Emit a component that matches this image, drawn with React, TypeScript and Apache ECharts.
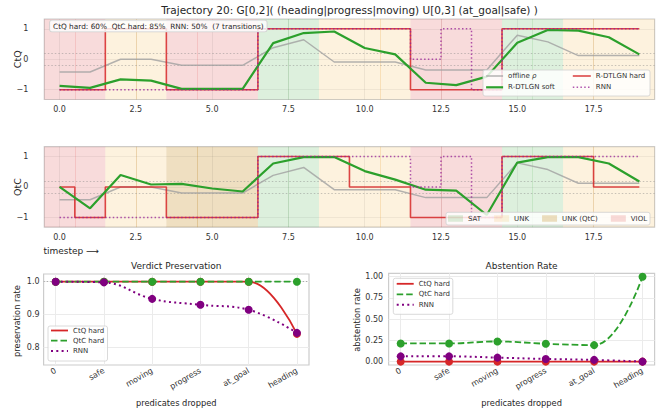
import React, { useEffect, useRef } from 'react';
import * as echarts from 'echarts';

const FONT = 'DejaVu Sans';

// ---------- trajectory panels ----------
const timesteps = [0, 1, 2, 3, 4, 5, 6, 7, 8, 9, 10, 11, 12, 13, 14, 15, 16, 17, 18, 19];
const offlineRho = [-0.42, -0.42, 0, 0, -0.2, -0.2, -0.2, 0.38, 0.64, -0.09, -0.09, -0.09, -0.35, -0.35, -0.35, 0.79, 0.57, 0.12, 0.12, 0.12];
const ctqSoft = [-0.87, -0.94, -0.66, -0.7, -0.97, -0.97, -0.97, 0.53, 0.86, 0.91, 0.37, 0.16, -0.77, -0.85, -0.57, 0.54, 0.96, 0.94, 0.72, 0.16];
const ctqHard = [-1, -1, 1, 1, -1, -1, -1, 1, 1, 1, 1, 1, -1, -1, -1, 1, 1, 1, 1, 1];
const qtcSoft = [0, -0.7, 0.39, 0.08, 0.1, -0.05, -0.15, 0.77, 0.98, 0.98, 0.52, 0.24, -0.09, -0.12, -0.92, 0.8, 0.98, 0.98, 0.77, 0.18];
const qtcHard = [0, -1, 0, 0, -1, -1, -1, 1, 1, 1, 0, 0, -1, -1, -1, 1, 1, 1, 0, 0];
const rnnVerdict = [-1, -1, -1, -1, -1, -1, -1, 1, 1, 1, 1, 1, 0, 1, -1, 1, 1, 1, 1, 1];
const ctqBands = ['VIOL', 'VIOL', 'UNK', 'UNK', 'VIOL', 'VIOL', 'VIOL', 'SAT', 'SAT', 'UNK', 'UNK', 'UNK', 'VIOL', 'VIOL', 'VIOL', 'SAT', 'SAT', 'UNK', 'UNK', 'UNK'];
const qtcBands = ['VIOL', 'VIOL', 'UNK', 'UNK', 'UNKQ', 'UNKQ', 'UNKQ', 'SAT', 'SAT', 'UNK', 'UNK', 'UNK', 'VIOL', 'VIOL', 'VIOL', 'SAT', 'SAT', 'UNK', 'UNK', 'UNK'];
const bandSeams = [0.5, 2.5, 4.5, 7.5, 10.5, 12.5, 15.5, 17.5];
const timeTicks = [0, 2.5, 5, 7.5, 10, 12.5, 15, 17.5];
const verdictTicks = [-1, 0, 1];
const thresholds = [-0.2, 0.2];
const bandNames = ['SAT', 'UNK', 'UNK (QtC)', 'VIOL'];
const bandKeys = ['SAT', 'UNK', 'UNKQ', 'VIOL'];

// ---------- robustness panels ----------
const predicates = ['0', 'safe', 'moving', 'progress', 'at_goal', 'heading'];
const presCtq = [1.0, 1.0, 1.0, 1.0, 1.0, 0.842];
const presQtc = [1.0, 1.0, 1.0, 1.0, 1.0, 1.0];
const presRnn = [1.0, 0.998, 0.948, 0.93, 0.915, 0.845];
const absCtq = [0, 0, 0, 0, 0, 0];
const absQtc = [0.214, 0.214, 0.237, 0.21, 0.194, 1.0];
const absRnn = [0.062, 0.062, 0.047, 0.031, 0.02, 0.0];
const presTicks = [0.8, 0.9, 1.0];
const absTicks = [0, 0.25, 0.5, 0.75, 1.0];
const predIdx = [0, 1, 2, 3, 4, 5];

const bandColor: Record<string, string> = {
  SAT: 'rgba(44,160,44,0.16)',
  UNK: 'rgba(245,180,60,0.17)',
  UNKQ: 'rgba(200,145,40,0.29)',
  VIOL: 'rgba(214,39,40,0.17)',
};
const seamColor: Record<string, string> = {
  SAT: 'rgba(44,160,44,0.13)',
  UNK: 'rgba(230,150,30,0.2)',
  UNKQ: 'rgba(180,120,20,0.25)',
  VIOL: 'rgba(214,39,40,0.13)',
};

const RED = '#d62728';
const GREEN = '#2ca02c';
const PURPLE = '#800080';

function runsOf(states: string[]) {
  const runs: { state: string; from: number; to: number }[] = [];
  states.forEach((s, i) => {
    const last = runs[runs.length - 1];
    if (last && last.state === s) last.to = i;
    else runs.push({ state: s, from: i, to: i });
  });
  return runs;
}

const pair = (xs: number[], ys: number[]) => xs.map((x, i) => [x, ys[i]]);

function trajectorySeries(g: number, bands: string[], soft: number[], hard: number[]) {
  return [
    {
      type: 'line', name: '__bands' + g, xAxisIndex: g, yAxisIndex: g, data: [], silent: true, z: 1,
      markArea: {
        silent: true, z: 1,
        data: runsOf(bands).map((r) => [
          { xAxis: timesteps[r.from] - 0.5, itemStyle: { color: bandColor[r.state] } },
          { xAxis: timesteps[r.to] + 0.5 },
        ]),
      },
    },
    {
      type: 'line', name: '__grid' + g, xAxisIndex: g, yAxisIndex: g, data: [], silent: true, z: 1,
      markLine: {
        silent: true, z: 1.5, symbol: ['none', 'none'], label: { show: false },
        data: [
          ...timeTicks.map((v) => ({ xAxis: v, lineStyle: { color: 'rgba(0,0,0,0.06)', width: 1, type: 'solid' } })),
          ...verdictTicks.map((v) => ({ yAxis: v, lineStyle: { color: 'rgba(0,0,0,0.05)', width: 1, type: 'solid' } })),
          ...bandSeams.map((v) => ({ xAxis: v, lineStyle: { color: seamColor[bands[Math.floor(v)]], width: 1, type: 'solid' } })),
          ...thresholds.map((v) => ({ yAxis: v, lineStyle: { color: 'rgba(128,128,128,0.55)', width: 0.8, type: [1.5, 2] } })),
        ],
      },
    },
    {
      type: 'line', name: 'offline ρ', xAxisIndex: g, yAxisIndex: g, z: 3,
      data: pair(timesteps, offlineRho), symbol: 'none',
      color: 'rgba(160,160,160,0.8)',
      lineStyle: { color: 'rgba(160,160,160,0.8)', width: 1.5 },
    },
    {
      type: 'line', name: 'R-DTLGN hard', xAxisIndex: g, yAxisIndex: g, z: 4,
      data: pair(timesteps, hard), symbol: 'none', step: 'middle',
      color: 'rgba(214,39,40,0.85)',
      lineStyle: { color: 'rgba(214,39,40,0.85)', width: 1.6 },
    },
    {
      type: 'line', name: 'R-DTLGN soft', xAxisIndex: g, yAxisIndex: g, z: 5,
      data: pair(timesteps, soft), symbol: 'none',
      color: GREEN,
      lineStyle: { color: GREEN, width: 2.2 },
    },
    {
      type: 'line', name: 'RNN', xAxisIndex: g, yAxisIndex: g, z: 6,
      data: pair(timesteps, rnnVerdict), symbol: 'none', step: 'middle',
      color: 'rgba(150,30,150,0.75)',
      lineStyle: { color: 'rgba(150,30,150,0.75)', width: 1.5, type: [1.5, 2.3] },
    },
  ];
}

function robustSeries(g: number, ticks: number[], ctq: number[], qtc: number[], rnn: number[], refLine: boolean) {
  const gridLines: any[] = [
    ...predIdx.map((v) => ({ xAxis: v, lineStyle: { color: '#ebebeb', width: 1, type: 'solid' } })),
    ...ticks.map((v) => ({ yAxis: v, lineStyle: { color: '#ebebeb', width: 1, type: 'solid' } })),
  ];
  if (refLine) gridLines.push({ yAxis: 1.0, lineStyle: { color: 'rgba(128,128,128,0.6)', width: 1, type: [1.2, 2] } });
  return [
    {
      type: 'line', name: '__rgrid' + g, xAxisIndex: g, yAxisIndex: g, data: [], silent: true, z: 1,
      markLine: { silent: true, z: 1, symbol: ['none', 'none'], label: { show: false }, data: gridLines },
    },
    {
      type: 'line', name: 'CtQ hard', xAxisIndex: g, yAxisIndex: g, z: 3,
      data: pair(predIdx, ctq), smooth: 0.4, symbol: 'circle', symbolSize: 8,
      color: RED, itemStyle: { color: RED },
      lineStyle: { color: RED, width: 1.8 },
    },
    {
      type: 'line', name: 'QtC hard', xAxisIndex: g, yAxisIndex: g, z: 4,
      data: pair(predIdx, qtc), smooth: 0.4, symbol: 'circle', symbolSize: 8,
      color: GREEN, itemStyle: { color: GREEN },
      lineStyle: { color: GREEN, width: 1.8, type: [6.5, 3] },
    },
    {
      type: 'line', name: 'RNN ', xAxisIndex: g, yAxisIndex: g, z: 5,
      data: pair(predIdx, rnn), smooth: 0.4, symbol: 'circle', symbolSize: 8,
      color: PURPLE, itemStyle: { color: PURPLE },
      lineStyle: { color: PURPLE, width: 2, type: [2, 3.3] },
    },
  ];
}

const grids = [
  { left: 44.3, top: 19, width: 610.3, height: 80.5 },
  { left: 44.3, top: 146.7, width: 610.3, height: 80.5 },
  { left: 43.6, top: 274, width: 265.4, height: 91 },
  { left: 388.6, top: 273.3, width: 266, height: 91.7 },
];

const baseAxis = {
  type: 'value',
  axisLine: { show: false },
  axisTick: { show: false },
  splitLine: { show: false },
};
const lbl = { fontSize: 8, color: '#333', fontFamily: FONT };

const legendCommon = {
  selectedMode: false,
  padding: 0,
  z: 30,
  itemWidth: 17,
  itemHeight: 8,
  orient: 'vertical',
  textStyle: { fontSize: 7, color: '#333', fontFamily: FONT, rich: { i: { fontSize: 7, fontStyle: 'italic', color: '#333', fontFamily: FONT } } },
  itemStyle: { opacity: 0 },
  lineStyle: { width: 'inherit' },
};

function boxRect(x: number, y: number, w: number, h: number) {
  return {
    type: 'rect', z: 20, silent: true,
    shape: { x, y, width: w, height: h, r: 2 },
    style: { fill: 'rgba(255,255,255,0.82)', stroke: '#d0d0d0', lineWidth: 0.8 },
  };
}
function txt(text: string, x: number, y: number, fontSize: number, extra: any = {}) {
  return {
    type: 'text', x, y, z: 25, silent: true, ...extra,
    style: { text, fontSize, fill: '#262626', fontFamily: FONT, align: 'center', verticalAlign: 'middle', ...(extra.style || {}) },
  };
}

export default function App() {
  const ref = useRef<HTMLDivElement>(null);
  useEffect(() => {
    if (!ref.current) return;
    const chart = echarts.init(ref.current, undefined, { renderer: 'svg' });
    const option: any = {
      animation: false,
      backgroundColor: '#ffffff',
      textStyle: { fontFamily: FONT },
      grid: grids.map((g) => ({ ...g, show: true, backgroundColor: '#ffffff', borderColor: '#cccccc', borderWidth: 1.2 })),
      xAxis: [
        { ...baseAxis, gridIndex: 0, min: -0.5, max: 19.5, axisLabel: { ...lbl, customValues: timeTicks, margin: 6, formatter: (v: number) => v.toFixed(1) } },
        { ...baseAxis, gridIndex: 1, min: -0.5, max: 19.5, axisLabel: { ...lbl, customValues: timeTicks, margin: 6, formatter: (v: number) => v.toFixed(1) } },
        { ...baseAxis, gridIndex: 2, min: -0.25, max: 5.25, axisLabel: { ...lbl, customValues: predIdx, margin: 5, rotate: 30, formatter: (v: number) => predicates[Math.round(v)] } },
        { ...baseAxis, gridIndex: 3, min: -0.25, max: 5.25, axisLabel: { ...lbl, customValues: predIdx, margin: 5, rotate: 30, formatter: (v: number) => predicates[Math.round(v)] } },
      ],
      yAxis: [
        { ...baseAxis, gridIndex: 0, min: -1.32, max: 1.32, axisLabel: { ...lbl, customValues: verdictTicks, margin: 16, formatter: (v: number) => (v < 0 ? '\u2212' + Math.abs(v) : String(v)) } },
        { ...baseAxis, gridIndex: 1, min: -1.32, max: 1.32, axisLabel: { ...lbl, customValues: verdictTicks, margin: 16, formatter: (v: number) => (v < 0 ? '\u2212' + Math.abs(v) : String(v)) } },
        { ...baseAxis, gridIndex: 2, min: 0.7476, max: 1.0233, axisLabel: { ...lbl, customValues: presTicks, margin: 4, formatter: (v: number) => v.toFixed(1) } },
        { ...baseAxis, gridIndex: 3, min: -0.04, max: 1.04, axisLabel: { ...lbl, customValues: absTicks, margin: 5.5, formatter: (v: number) => v.toFixed(2) } },
      ],
      legend: [
        { ...legendCommon, left: 485, top: 72.5, itemGap: 4.3, data: ['offline ρ', 'R-DTLGN soft'], formatter: (n: string) => (n === 'offline ρ' ? 'offline {i|ρ}' : n) },
        { ...legendCommon, left: 572, top: 72.5, itemGap: 4.3, itemWidth: 18, data: ['R-DTLGN hard', 'RNN'] },
        {
          selectedMode: false, padding: 0, z: 30, orient: 'horizontal', left: 448, top: 215, itemWidth: 15, itemHeight: 6.5, itemGap: 13,
          icon: 'rect', data: bandNames, textStyle: { fontSize: 7, color: '#333', fontFamily: FONT },
        },
        { ...legendCommon, left: 50, top: 327, itemGap: 3.2, data: ['CtQ hard', 'QtC hard', 'RNN '], formatter: (n: string) => n.trim() },
        { ...legendCommon, left: 395.7, top: 280.3, itemGap: 3.5, data: ['CtQ hard', 'QtC hard', 'RNN '], formatter: (n: string) => n.trim() },
      ],
      graphic: [
        boxRect(483, 70, 167, 26),
        boxRect(446, 212.3, 204, 12.7),
        boxRect(48, 326, 59.5, 35),
        boxRect(393.3, 278.3, 59.5, 36),
        txt('Trajectory 20: G[0,2]( (heading|progress|moving) U[0,3] (at_goal|safe) )', 349.5, 10, 10.5),
        {
          type: 'text', x: 50, y: 26, z: 25, silent: true,
          style: {
            text: 'CtQ hard: 60%  QtC hard: 85%  RNN: 50%  (7 transitions)', fontSize: 7.35, fill: '#262626', fontFamily: FONT,
            align: 'left', verticalAlign: 'middle', backgroundColor: 'rgba(255,255,255,0.8)', borderColor: '#d0d0d0', borderWidth: 0.8,
            borderRadius: 2, padding: [2, 3, 2, 3],
          },
        },
        txt('CtQ', 17.5, 59.3, 9.5, { rotation: Math.PI / 2 }),
        txt('QtC', 17.5, 187, 9.5, { rotation: Math.PI / 2 }),
        txt('timestep \u27F6', 43.5, 251, 9, { style: { align: 'left' } }),
        txt('Verdict Preservation', 176.3, 266, 9),
        txt('Abstention Rate', 521.6, 266, 9),
        txt('predicates dropped', 176.3, 403, 8.3),
        txt('predicates dropped', 521.6, 403, 8.3),
        txt('preservation rate', 16.7, 321, 8.3, { rotation: Math.PI / 2 }),
        txt('abstention rate', 357.3, 320, 8.3, { rotation: Math.PI / 2 }),
      ],
      series: [
        ...trajectorySeries(0, ctqBands, ctqSoft, ctqHard),
        ...trajectorySeries(1, qtcBands, qtcSoft, qtcHard),
        ...bandNames.map((n, i) => ({
          type: 'line', name: n, xAxisIndex: 1, yAxisIndex: 1, data: [], silent: true,
          color: bandColor[bandKeys[i]], itemStyle: { color: bandColor[bandKeys[i]] }, lineStyle: { color: bandColor[bandKeys[i]] },
        })),
        ...robustSeries(2, presTicks, presCtq, presQtc, presRnn, true),
        ...robustSeries(3, absTicks, absCtq, absQtc, absRnn, false),
      ],
    };
    chart.setOption(option);
    return () => chart.dispose();
  }, []);
  return <div ref={ref} style={{ position: 'fixed', left: 0, top: 0, width: 661, height: 411 }} />;
}
